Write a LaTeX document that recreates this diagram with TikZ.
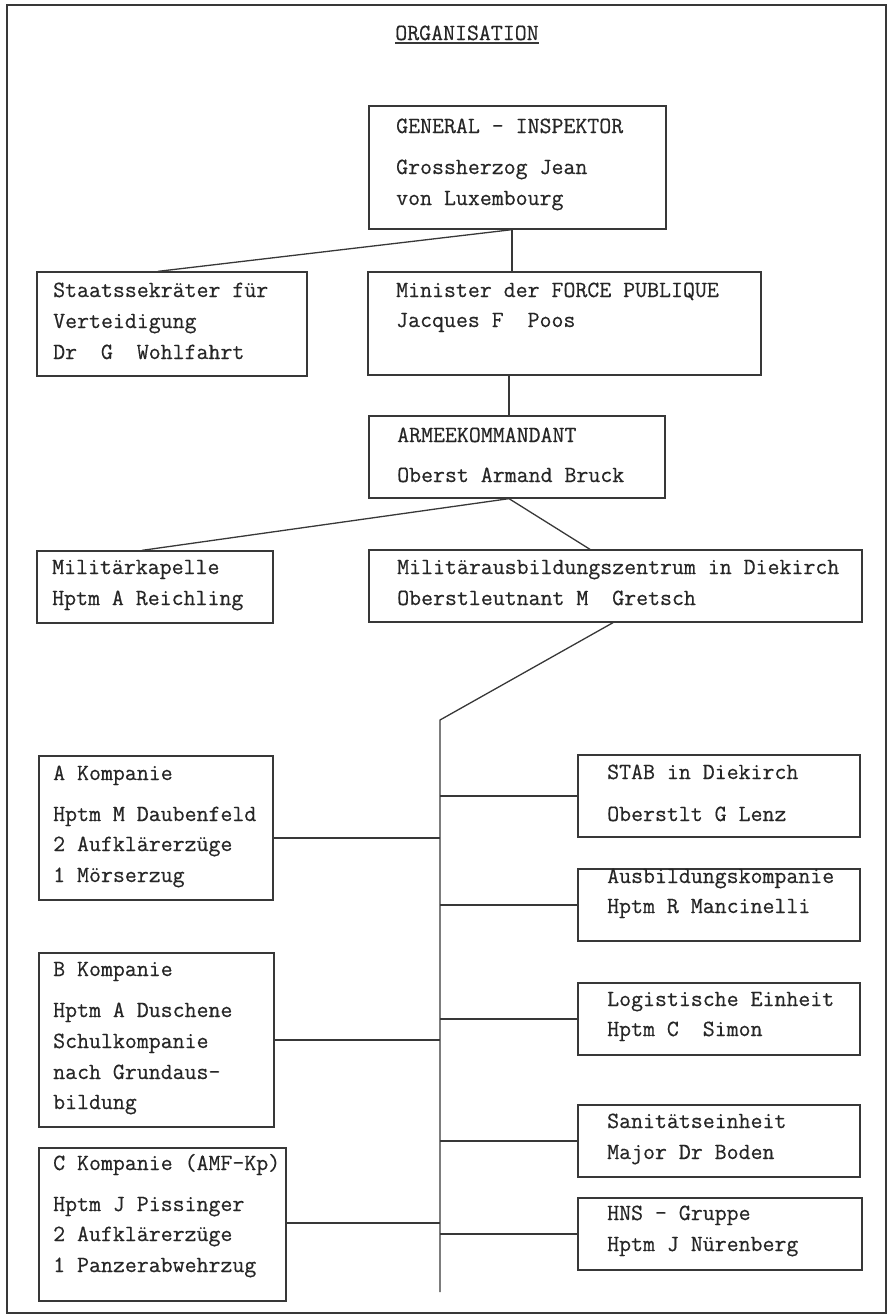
\documentclass[tikz,border=0pt]{standalone}
\usepackage{fontspec}
\setmonofont{Latin Modern Mono}[FakeBold=0.5]
\usetikzlibrary{fit}

\colorlet{linecolor}{black!78}
\colorlet{inkcolor}{black!85}
\newcommand\orgfont{\ttfamily\fontsize{23.2}{28}\selectfont}

\tikzset{
    orgbox/.style={draw=linecolor, line width=1.3pt, inner sep=0pt},
    entry/.style={anchor=base west, inner sep=0pt, text=inkcolor, font=\orgfont},
    link/.style={draw=linecolor, line width=1.3pt},
    frame/.style={draw=linecolor, line width=2.5pt},
}

\begin{document}
\begin{tikzpicture}[x=1pt, y=-1pt]

    \useasboundingbox (0,0) rectangle (891,1315);
    \draw[frame] (7,5) rectangle (886,1313);

    \node[entry, anchor=base] (title) at (467,40) {ORGANISATION};
    \draw[link] ([yshift=-3pt]title.base west) -- ([yshift=-3pt]title.base east);

    % upper levels
    \node[orgbox, fit={(369,106) (666,229)}] (gi) {};
    \node[entry] (gi-1) at (396,133) {GENERAL - INSPEKTOR};
    \node[entry] (gi-2) at (396,174) {Grossherzog Jean};
    \node[entry] (gi-3) at (396,205) {von Luxembourg};

    \node[orgbox, fit={(37,272) (307,376)}] (staats) {};
    \node[entry] (staats-1) at (53,297) {Staatssekräter für};
    \node[entry] (staats-2) at (53,328) {Verteidigung};
    \node[entry] (staats-3) at (53,359) {Dr~~G~~Wohlfahrt};

    \node[orgbox, fit={(368,272) (761,375)}] (minister) {};
    \node[entry] (minister-1) at (396,297) {Minister der FORCE PUBLIQUE};
    \node[entry] (minister-2) at (396,327) {Jacques F~~Poos};

    \node[orgbox, fit={(369,416) (665,498)}] (armee) {};
    \node[entry] (armee-1) at (397,442) {ARMEEKOMMANDANT};
    \node[entry] (armee-2) at (397,482) {Oberst Armand Bruck};

    \node[orgbox, fit={(37,551) (273,623)}] (kapelle) {};
    \node[entry] (kapelle-1) at (52,574) {Militärkapelle};
    \node[entry] (kapelle-2) at (52,605) {Hptm A Reichling};

    \node[orgbox, fit={(369,550) (862,622)}] (maz) {};
    \node[entry] (maz-1) at (397,574) {Militärausbildungszentrum in Diekirch};
    \node[entry] (maz-2) at (397,605) {Oberstleutnant M~~Gretsch};

    \coordinate (gi-s) at ([xshift=-5.5pt]gi.south);
    \draw[link] (gi-s) -- ([xshift=-14pt]staats.north);
    \draw[link] (gi-s) -- (gi-s |- minister.north);
    \coordinate (minister-s) at ([xshift=-55.5pt]minister.south);
    \draw[link] (minister-s) -- (minister-s |- armee.north);
    \coordinate (armee-s) at ([xshift=-8pt]armee.south);
    \draw[link] (armee-s) -- ([xshift=-13pt]kapelle.north);
    \draw[link] (armee-s) -- ([xshift=-25.5pt]maz.north);

    \coordinate (trunk-top) at (440,720);
    \coordinate (trunk-end) at (440,1292);
    \draw[link] ([xshift=-2.5pt]maz.south) -- (trunk-top) -- (trunk-end);

    % companies
    \node[orgbox, fit={(39,756) (273,900)}] (akomp) {};
    \node[entry] (akomp-1) at (53,780) {A Kompanie};
    \node[entry] (akomp-2) at (53,821) {Hptm M Daubenfeld};
    \node[entry] (akomp-3) at (53,851) {2 Aufklärerzüge};
    \node[entry] (akomp-4) at (53,882) {1 Mörserzug};

    \node[orgbox, fit={(39,953) (274,1127)}] (bkomp) {};
    \node[entry] (bkomp-1) at (53,976) {B Kompanie};
    \node[entry] (bkomp-2) at (53,1017) {Hptm A Duschene};
    \node[entry] (bkomp-3) at (53,1048) {Schulkompanie};
    \node[entry] (bkomp-4) at (53,1079) {nach Grundaus-};
    \node[entry] (bkomp-5) at (53,1109) {bildung};

    \node[orgbox, fit={(39,1148) (286,1301)}] (ckomp) {};
    \node[entry] (ckomp-1) at (53,1170) {C Kompanie (AMF-Kp)};
    \node[entry] (ckomp-2) at (53,1211) {Hptm J Pissinger};
    \node[entry] (ckomp-3) at (53,1241) {2 Aufklärerzüge};
    \node[entry] (ckomp-4) at (53,1272) {1 Panzerabwehrzug};

    % staff units
    \node[orgbox, fit={(578,755) (860,837)}] (stab) {};
    \node[entry] (stab-1) at (607,779) {STAB in Diekirch};
    \node[entry] (stab-2) at (607,821) {Oberstlt G Lenz};

    \node[orgbox, fit={(578,869) (860,941)}] (ausb) {};
    \node[entry] (ausb-1) at (607,883) {Ausbildungskompanie};
    \node[entry] (ausb-2) at (607,913) {Hptm R Mancinelli};

    \node[orgbox, fit={(578,983) (860,1055)}] (logi) {};
    \node[entry] (logi-1) at (607,1006) {Logistische Einheit};
    \node[entry] (logi-2) at (607,1036) {Hptm C~~Simon};

    \node[orgbox, fit={(578,1105) (860,1177)}] (sani) {};
    \node[entry] (sani-1) at (607,1128) {Sanitätseinheit};
    \node[entry] (sani-2) at (607,1159) {Major Dr Boden};

    \node[orgbox, fit={(578,1198) (862,1270)}] (hns) {};
    \node[entry] (hns-1) at (607,1220) {HNS - Gruppe};
    \node[entry] (hns-2) at (607,1251) {Hptm J Nürenberg};

    \coordinate (akomp-e) at ([yshift=-10pt]akomp.east);
    \draw[link] (akomp-e) -- (akomp-e -| trunk-top);
    \draw[link] (bkomp.east) -- (bkomp.east -| trunk-top);
    \coordinate (ckomp-e) at ([yshift=1.5pt]ckomp.east);
    \draw[link] (ckomp-e) -- (ckomp-e -| trunk-top);
    \foreach \b in {stab,ausb,logi,sani,hns}
        \draw[link] (\b.west -| trunk-top) -- (\b.west);

\end{tikzpicture}
\end{document}
